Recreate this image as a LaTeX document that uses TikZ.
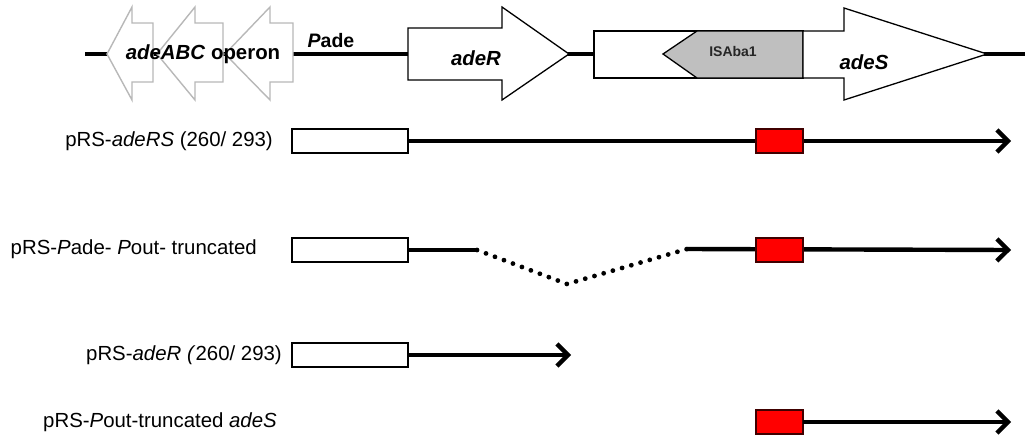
\documentclass[tikz,border=0pt]{standalone}
\usepackage{fontspec}
\setmainfont{Liberation Sans}
\usetikzlibrary{arrows.meta}
\begin{document}
\begin{tikzpicture}[x=1pt,y=-1pt,
  dna/.style={line width=4.4pt},
  gene/.style={draw=black, line width=1.3pt, fill=white, line join=miter},
  opgene/.style={draw=black!28, line width=1.4pt, fill=white, line join=miter},
  isel/.style={draw=black, line width=1.3pt, fill=black!25, line join=miter},
  vecbox/.style={draw=black, line width=1.4pt, fill=white, minimum width=116pt, minimum height=24pt, inner sep=0pt, outer sep=0pt},
  redbox/.style={draw=black!75!red, line width=1.4pt, fill=red, minimum width=47pt, minimum height=24pt, inner sep=0pt, outer sep=0pt},
  lbl/.style={font=\fontsize{20.4}{24}\selectfont, anchor=east, inner sep=0pt},
  glbl/.style={font=\fontsize{20.4}{24}\selectfont\bfseries, inner sep=0pt},
  tipped/.style={-{Straight Barb[length=11pt, width=22pt]}},
  dotline/.style={line width=4.8pt, line cap=round, dash pattern=on 0pt off 9.6pt}
]
\useasboundingbox (0,0) rectangle (1025,439);

% genomic backbone
\coordinate (L0) at (85,54);
\coordinate (L1) at (1025,54);
\draw[dna] (L0) -- (L1);

% adeABC operon (grey, leftward)
\draw[opgene] (107,54) -- (132,7) -- (132,23) -- (153,23) -- (153,82) -- (132,82) -- (132,100) -- cycle;
\draw[opgene] (157,54) -- (195,7) -- (195,23) -- (223,23) -- (223,82) -- (195,82) -- (195,100) -- cycle;
\draw[opgene] (225,54) -- (270,7) -- (270,23) -- (293,23) -- (293,82) -- (270,82) -- (270,100) -- cycle;
\node[glbl] (op) at (203,54) {\textit{adeABC} operon};
\node[glbl, font=\fontsize{19.5}{22}\selectfont\bfseries] (pade) at (331,41) {\textit{P}ade};

% adeR
\draw[gene] (408,28) -- (502,28) -- (502,7) -- (569,54) -- (502,100) -- (502,80) -- (408,80) -- cycle;
\node[glbl] (adeR) at (476,58) {\textit{adeR}};

% ISAba1 region
\draw[gene] (594,31) rectangle (803,78);
\draw[isel] (663,54) -- (697,31) -- (803,31) -- (803,78) -- (697,78) -- cycle;
\node[glbl, font=\fontsize{14}{16}\selectfont\bfseries, text=black!85] (isaba) at (733,51) {ISAba1};

% adeS
\draw[gene] (803,31) -- (844,31) -- (844,8) -- (987,54) -- (844,100) -- (844,78) -- (803,78) -- cycle;
\node[glbl] (adeS) at (864,62) {\textit{adeS}};

% Row 1
\node[lbl] (t1) at (273,141) {pRS-\textit{adeRS} (260/ 293)};
\node[vecbox] (b1) at (350,141) {};
\coordinate (e1) at (1011,141);
\draw[dna, tipped] (b1.east) -- (e1);
\node[redbox] (r1) at (779.5,141) {};

% Row 2
\node[lbl] (t2) at (257,249) {pRS-\textit{P}ade- \textit{P}out- truncated};
\node[vecbox] (b2) at (350,250) {};
\coordinate (d1) at (477,250);
\coordinate (d2) at (567,284);
\coordinate (d3) at (687,249);
\coordinate (e2) at (1011,250);
\draw[dna] (b2.east) -- (d1);
\draw[dotline] (d1) -- (d2) -- (d3);
\draw[dna, tipped] (d3) -- (e2);
\node[redbox] (r2) at (779.5,250) {};

% Row 3
\node[lbl] (t3) at (282,355) {pRS-\textit{adeR (}260/ 293)};
\node[vecbox] (b3) at (350,355) {};
\coordinate (e3) at (571,355);
\draw[dna, tipped] (b3.east) -- (e3);

% Row 4
\node[lbl] (t4) at (277,422) {pRS-\textit{P}out-truncated \textit{adeS}};
\node[redbox] (r4) at (779.5,422) {};
\coordinate (e4) at (1011,422);
\draw[dna, tipped] (r4.east) -- (e4);
\end{tikzpicture}
\end{document}
